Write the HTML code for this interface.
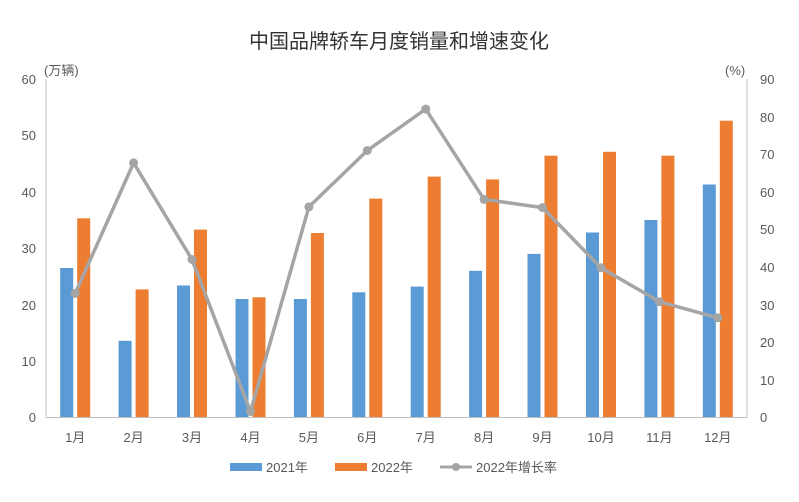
<!DOCTYPE html>
<html><head><meta charset="utf-8"><style>body{margin:0;background:#fff}svg{display:block}text{font-family:"Liberation Sans","Noto Sans CJK SC",sans-serif}</style></head><body>
<svg width="799" height="502" viewBox="0 0 799 502" xmlns="http://www.w3.org/2000/svg">
<text x="399" y="48" text-anchor="middle" font-size="20" fill="#333">中国品牌轿车月度销量和增速变化</text>
<g font-size="13" fill="#595959">
<text x="36" y="84" text-anchor="end">60</text><text x="36" y="140" text-anchor="end">50</text><text x="36" y="197" text-anchor="end">40</text><text x="36" y="253" text-anchor="end">30</text><text x="36" y="310" text-anchor="end">20</text><text x="36" y="366" text-anchor="end">10</text><text x="36" y="422" text-anchor="end">0</text>
<text x="760" y="84">90</text><text x="760" y="122">80</text><text x="760" y="159">70</text><text x="760" y="197">60</text><text x="760" y="234">50</text><text x="760" y="272">40</text><text x="760" y="310">30</text><text x="760" y="347">20</text><text x="760" y="385">10</text><text x="760" y="422">0</text>
<text x="44" y="75">(万辆)</text><text x="725" y="75">(%)</text>
</g>
<g fill="#5b9bd5">
<rect x="60.2" y="268" width="13" height="149.5"/>
<rect x="118.6" y="340.8" width="13" height="76.7"/>
<rect x="177" y="285.5" width="13" height="132"/>
<rect x="235.5" y="299" width="13" height="118.5"/>
<rect x="293.9" y="299" width="13" height="118.5"/>
<rect x="352.3" y="292.3" width="13" height="125.2"/>
<rect x="410.7" y="286.6" width="13" height="130.9"/>
<rect x="469.1" y="270.8" width="13" height="146.7"/>
<rect x="527.5" y="253.9" width="13" height="163.6"/>
<rect x="586" y="232.5" width="13" height="185"/>
<rect x="644.4" y="220" width="13" height="197.5"/>
<rect x="702.8" y="184.5" width="13" height="233"/>
</g>
<g fill="#ed7d31">
<rect x="77.2" y="218.3" width="13" height="199.2"/>
<rect x="135.6" y="289.4" width="13" height="128.1"/>
<rect x="194" y="229.6" width="13" height="187.9"/>
<rect x="252.5" y="297.3" width="13" height="120.2"/>
<rect x="310.9" y="233" width="13" height="184.5"/>
<rect x="369.3" y="198.6" width="13" height="218.9"/>
<rect x="427.7" y="176.6" width="13" height="240.9"/>
<rect x="486.1" y="179.4" width="13" height="238.1"/>
<rect x="544.5" y="155.7" width="13" height="261.8"/>
<rect x="603" y="151.8" width="13" height="265.7"/>
<rect x="661.4" y="155.7" width="13" height="261.8"/>
<rect x="719.8" y="120.7" width="13" height="296.8"/>
</g>
<line x1="46" y1="79" x2="46" y2="417.5" stroke="#bfbfbf"/>
<line x1="747" y1="79" x2="747" y2="417.5" stroke="#bfbfbf"/>
<line x1="46" y1="417.5" x2="747" y2="417.5" stroke="#bfbfbf"/>
<polyline points="75.2,293.4 133.6,162.9 192,259.5 250.5,411.5 308.9,206.9 367.3,150.5 425.7,109.1 484.1,199.4 542.5,207.6 601,267.8 659.4,301.7 717.8,317.8" fill="none" stroke="#a5a5a5" stroke-width="3.5" stroke-linejoin="round"/>
<g fill="#a5a5a5">
<circle cx="75.2" cy="293.4" r="4.5"/><circle cx="133.6" cy="162.9" r="4.5"/><circle cx="192" cy="259.5" r="4.5"/><circle cx="250.5" cy="411.5" r="4.5"/><circle cx="308.9" cy="206.9" r="4.5"/><circle cx="367.3" cy="150.5" r="4.5"/><circle cx="425.7" cy="109.1" r="4.5"/><circle cx="484.1" cy="199.4" r="4.5"/><circle cx="542.5" cy="207.6" r="4.5"/><circle cx="601" cy="267.8" r="4.5"/><circle cx="659.4" cy="301.7" r="4.5"/><circle cx="717.8" cy="317.8" r="4.5"/>
</g>
<g font-size="13" fill="#595959" text-anchor="middle">
<text x="75.2" y="442">1月</text><text x="133.6" y="442">2月</text><text x="192" y="442">3月</text><text x="250.5" y="442">4月</text><text x="308.9" y="442">5月</text><text x="367.3" y="442">6月</text><text x="425.7" y="442">7月</text><text x="484.1" y="442">8月</text><text x="542.5" y="442">9月</text><text x="601" y="442">10月</text><text x="659.4" y="442">11月</text><text x="717.8" y="442">12月</text>
</g>
<g font-size="13" fill="#595959">
<rect x="230" y="463" width="32" height="8" fill="#5b9bd5"/><text x="266" y="472">2021年</text>
<rect x="335" y="463" width="32" height="8" fill="#ed7d31"/><text x="371" y="472">2022年</text>
<line x1="440" y1="467" x2="472" y2="467" stroke="#a5a5a5" stroke-width="3"/><circle cx="456" cy="467" r="4" fill="#a5a5a5"/><text x="476" y="472">2022年增长率</text>
</g>
</svg>
</body></html>
